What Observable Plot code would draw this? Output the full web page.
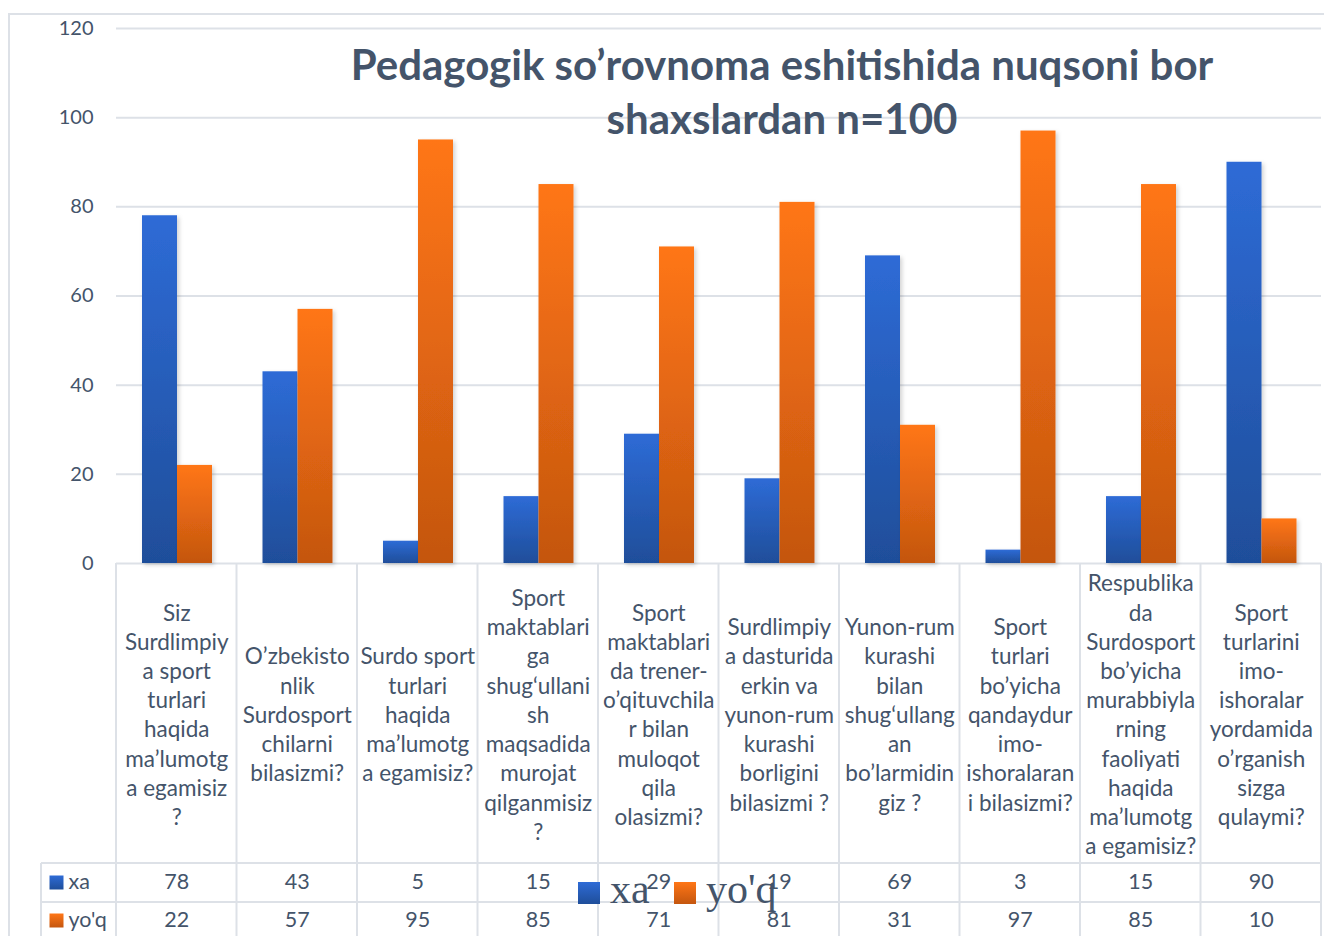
<!DOCTYPE html>
<html>
<head>
<meta charset="utf-8">
<script src="https://cdn.jsdelivr.net/npm/d3@7"></script>
<script src="https://cdn.jsdelivr.net/npm/@observablehq/plot@0.6"></script>
<style>
  html, body { margin: 0; padding: 0; background: #fff; }
  #wrap { position: relative; width: 1324px; height: 936px; overflow: hidden; font-family: Lato, sans-serif; color: #44546A; }
  #frame { position: absolute; left: 8px; top: 13px; width: 1400px; height: 1000px; border-left: 2px solid #DDE1E7; border-top: 2px solid #DDE1E7; box-sizing: border-box; }
  #chart { position: absolute; left: 0; top: 0; }
  #title { position: absolute; left: 282px; width: 1000px; top: 37px; text-align: center; font: bold 42px/54px Lato, sans-serif; color: #44546A; }
  .lg-sq { position: absolute; width: 22px; height: 22px; }
  .lg-tx { position: absolute; font: 42px/42px "Liberation Serif", serif; color: #44546A; white-space: nowrap; }
</style>
</head>
<body>
<div id="wrap">
  <div id="frame"></div>
  <div id="chart"></div>
  <div id="title">Pedagogik so’rovnoma eshitishida nuqsoni bor<br>shaxslardan n=100</div>
  <div class="lg-sq" style="left:578px;top:882px;background:linear-gradient(#2E6BD6,#1F4E9A)"></div>
  <div class="lg-tx" style="left:610px;top:868px">xa</div>
  <div class="lg-sq" style="left:674px;top:882px;background:linear-gradient(#FF7616,#C4560F)"></div>
  <div class="lg-tx" style="left:706px;top:868px">yo'q</div>
</div>
<script>
const categories = [
  "Siz\nSurdlimpiy\na sport\nturlari\nhaqida\nma’lumotg\na egamisiz\n?",
  "O’zbekisto\nnlik\nSurdosport\nchilarni\nbilasizmi?",
  "Surdo sport\nturlari\nhaqida\nma’lumotg\na egamisiz?",
  "Sport\nmaktablari\nga\nshug‘ullani\nsh\nmaqsadida\nmurojat\nqilganmisiz\n?",
  "Sport\nmaktablari\nda trener-\no’qituvchila\nr bilan\nmuloqot\nqila\nolasizmi?",
  "Surdlimpiy\na dasturida\nerkin va\nyunon-rum\nkurashi\nborligini\nbilasizmi ?",
  "Yunon-rum\nkurashi\nbilan\nshug‘ullang\nan\nbo’larmidin\ngiz ?",
  "Sport\nturlari\nbo’yicha\nqandaydur\nimo-\nishoralaran\ni bilasizmi?",
  "Respublika\nda\nSurdosport\nbo’yicha\nmurabbiyla\nrning\nfaoliyati\nhaqida\nma’lumotg\na egamisiz?",
  "Sport\nturlarini\nimo-\nishoralar\nyordamida\no’rganish\nsizga\nqulaymi?"
];
const xa = [78, 43, 5, 15, 29, 19, 69, 3, 15, 90];
const yoq = [22, 57, 95, 85, 71, 81, 31, 97, 85, 10];
const seriesNames = ["xa", "yo'q"];
const yTicks = [0, 20, 40, 60, 80, 100, 120];

const rows = categories.map((c, i) => ({cat: c, xa: xa[i], yoq: yoq[i]}));
const ink = "#44546A";
const gridColor = "#DDE1E7";

const chart = Plot.plot({
  width: 1324,
  height: 936,
  marginLeft: 116,
  marginRight: 3,
  marginTop: 28,
  marginBottom: 373,
  style: {fontFamily: "Lato, sans-serif", color: ink, background: "transparent", overflow: "visible"},
  x: {type: "band", domain: categories, padding: 0, round: false, label: null},
  y: {domain: [0, 120], label: null},
  marks: [
    Plot.gridY(yTicks, {stroke: gridColor, strokeOpacity: 1, strokeWidth: 2}),
    Plot.axisY(yTicks, {tickSize: 0, tickPadding: 23, fontSize: 20, fill: ink, label: null}),
    Plot.axisX({tickSize: 0, tickPadding: 150, lineAnchor: "middle", fontSize: 22.5, lineHeight: 1.3, fill: ink, tickFormat: d => d, label: null}),
    Plot.barY(rows, {x: "cat", y: "xa", fill: "url(#gBlue)", insetLeft: 26, insetRight: 59.5}),
    Plot.barY(rows, {x: "cat", y: "yoq", fill: "url(#gOrange)", insetLeft: 61, insetRight: 24.5}),
    Plot.text(rows, {x: "cat", text: "xa", frameAnchor: "bottom", lineAnchor: "middle", dy: 319, fontSize: 21.5, fill: ink}),
    Plot.text(rows, {x: "cat", text: "yoq", frameAnchor: "bottom", lineAnchor: "middle", dy: 357, fontSize: 21.5, fill: ink}),
    Plot.text([seriesNames[0]], {text: d => d, frameAnchor: "bottom-left", lineAnchor: "middle", dx: -48, dy: 319, textAnchor: "start", fontSize: 21.5, fill: ink}),
    Plot.text([seriesNames[1]], {text: d => d, frameAnchor: "bottom-left", lineAnchor: "middle", dx: -48, dy: 357, textAnchor: "start", fontSize: 21.5, fill: ink}),
    Plot.dot([seriesNames[0]], {frameAnchor: "bottom-left", dx: -60, dy: 319, symbol: "square", r: 7.9, fill: "url(#gBlue)", stroke: null}),
    Plot.dot([seriesNames[1]], {frameAnchor: "bottom-left", dx: -60, dy: 357, symbol: "square", r: 7.9, fill: "url(#gOrange)", stroke: null})
  ]
});

const svg = d3.select(chart);
const defs = svg.insert("defs", ":first-child");
function grad(id, top, bottom) {
  const g = defs.append("linearGradient").attr("id", id).attr("x1", 0).attr("y1", 0).attr("x2", 0).attr("y2", 1);
  g.append("stop").attr("offset", "0%").attr("stop-color", top);
  g.append("stop").attr("offset", "100%").attr("stop-color", bottom);
}
grad("gBlue", "#2E6BD6", "#1F4E9A");
grad("gOrange", "#FF7616", "#C4560F");
const f = defs.append("filter").attr("id", "shadow").attr("x", "-20%").attr("y", "-5%").attr("width", "150%").attr("height", "115%");
f.append("feDropShadow").attr("dx", 2).attr("dy", 2).attr("stdDeviation", 2).attr("flood-color", "#000").attr("flood-opacity", 0.18);
svg.selectAll("g[aria-label=bar]").attr("filter", "url(#shadow)");

// data-table grid lines, positioned from the Plot x scale
const xs = chart.scale("x");
const bw = xs.bandwidth;
const right = xs.apply(categories[categories.length - 1]) + bw;
const yBase = chart.scale("y").apply(0);
const tableTop = yBase, row1 = 863, row2 = 902, bottom = 936, colLeft = 41;
const gTable = svg.insert("g", "g[aria-label=bar]").attr("stroke", gridColor).attr("stroke-width", 2);
const edges = categories.map(c => xs.apply(c)).concat([right]);
edges.forEach(x => gTable.append("line").attr("x1", x).attr("x2", x).attr("y1", tableTop).attr("y2", bottom));
gTable.append("line").attr("x1", colLeft).attr("x2", colLeft).attr("y1", row1).attr("y2", bottom);
[row1, row2].forEach(y => gTable.append("line").attr("x1", colLeft).attr("x2", right).attr("y1", y).attr("y2", y));

document.getElementById("chart").appendChild(chart);
</script>
</body>
</html>
